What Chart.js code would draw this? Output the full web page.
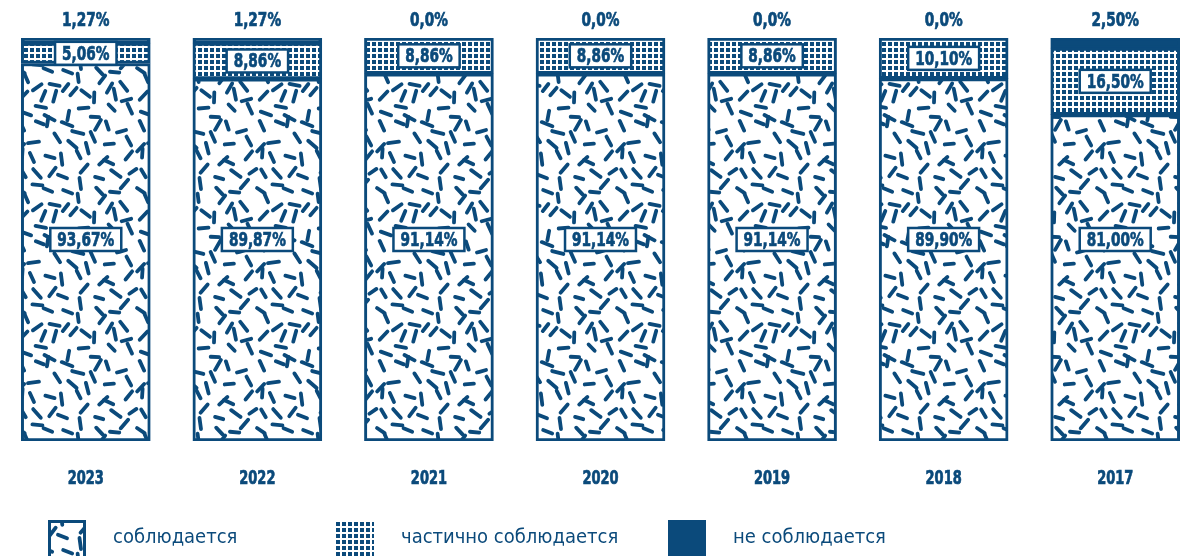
<!DOCTYPE html>
<html>
<head>
<meta charset="utf-8">
<script src="https://cdn.jsdelivr.net/npm/chart.js@4.4.1/dist/chart.umd.min.js"></script>
<style>
  html, body { margin: 0; padding: 0; background: #fff; }
  #wrap { width: 1201px; height: 556px; }
</style>
</head>
<body>
<div id="wrap"><canvas id="bar_chart" width="1201" height="556"></canvas></div>
<script>
var years = ["2023", "2022", "2021", "2020", "2019", "2018", "2017"];
var compliant = [93.67, 89.87, 91.14, 91.14, 91.14, 89.90, 81.00];
var partial = [5.06, 8.86, 8.86, 8.86, 8.86, 10.10, 16.50];
var notCompliant = [1.27, 1.27, 0, 0, 0, 0, 2.50];
var seriesNames = ["соблюдается", "частично соблюдается", "не соблюдается"];

var BLUE = '#0b4a7b';
var FONT = "'Liberation Sans Narrow', 'DejaVu Sans Condensed', 'Roboto', sans-serif";

// pattern with short rounded dashes
function dashPattern() {
    var size = 120, cells = 8, step = size / cells;
    var c = document.createElement('canvas');
    c.width = size; c.height = size;
    var g = c.getContext('2d');
    g.fillStyle = '#fff';
    g.fillRect(0, 0, size, size);
    g.strokeStyle = BLUE;
    g.lineWidth = 3.8;
    g.lineCap = 'round';
    var seed = 29;
    function rnd() { seed = (seed * 16807) % 2147483647; return seed / 2147483647; }
    for (var r = 0; r < cells; r++) {
        for (var k = 0; k < cells; k++) {
            var cx = k * step + step / 2 + (rnd() - 0.5) * step * 0.8;
            var cy = r * step + step / 2 + (rnd() - 0.5) * step * 0.8;
            var a = rnd() * Math.PI;
            var len = 4.2 + rnd() * 1.6;
            var dx = Math.cos(a) * len, dy = Math.sin(a) * len;
            for (var ox = -1; ox <= 1; ox++) {
                for (var oy = -1; oy <= 1; oy++) {
                    g.beginPath();
                    g.moveTo(cx - dx + ox * size, cy - dy + oy * size);
                    g.lineTo(cx + dx + ox * size, cy + dy + oy * size);
                    g.stroke();
                }
            }
        }
    }
    return g.createPattern(c, 'repeat');
}

// small square grid pattern
function gridPattern() {
    var c = document.createElement('canvas');
    c.width = 6; c.height = 6;
    var g = c.getContext('2d');
    g.fillStyle = '#fff';
    g.fillRect(0, 0, 6, 6);
    g.fillStyle = BLUE;
    g.fillRect(0, 0, 4, 4);
    return g.createPattern(c, 'repeat');
}

function fmt(v) {
    if (v === 0) return '0,0%';
    return v.toFixed(2).replace('.', ',') + '%';
}

// condensed text: draw squeezed horizontally
var SQUEEZE = 0.76;
function narrowText(ctx, text, x, y, size, weight) {
    ctx.save();
    ctx.font = weight + " " + size + "px " + FONT;
    ctx.fillStyle = BLUE;
    ctx.strokeStyle = BLUE;
    ctx.lineWidth = 0.7;
    ctx.textAlign = 'center';
    ctx.textBaseline = 'middle';
    ctx.translate(x, y);
    ctx.scale(SQUEEZE, 1);
    ctx.fillText(text, 0, 0);
    ctx.strokeText(text, 0, 0);
    ctx.restore();
}

function labelBox(ctx, x, y, text) {
    ctx.font = "bold 20px " + FONT;
    var w = ctx.measureText(text).width * SQUEEZE + 14, h = 23;
    ctx.fillStyle = '#fff';
    ctx.fillRect(x - w / 2, y - h / 2, w, h);
    ctx.strokeStyle = BLUE;
    ctx.lineWidth = 2.5;
    ctx.strokeRect(x - w / 2, y - h / 2, w, h);
    narrowText(ctx, text, x, y + 1, 20, 'bold');
}

var segLabels = {
    id: 'segLabels',
    afterDatasetsDraw: function (chart) {
        var ctx = chart.ctx, ys = chart.scales.y;
        var mC = chart.getDatasetMeta(0), mP = chart.getDatasetMeta(1), mN = chart.getDatasetMeta(2);
        years.forEach(function (yr, i) {
            var x = mC.data[i].x;
            labelBox(ctx, x, ys.getPixelForValue(50), fmt(compliant[i]));
            var p = mP.data[i];
            labelBox(ctx, x, (p.y + p.base) / 2, fmt(partial[i]));
            var n = mN.data[i];
            narrowText(ctx, fmt(notCompliant[i]), x, n.y - 17, 20, 'bold');
            narrowText(ctx, yr, x, ys.bottom + 38, 19, 'bold');
        });
    }
};

var legendX = [48, 336, 668];
var bottomLegend = {
    id: 'bottomLegend',
    afterDraw: function (chart) {
        var ctx = chart.ctx;
        ctx.save();
        chart.data.datasets.forEach(function (ds, i) {
            var x = legendX[i], y = 520;
            ctx.fillStyle = ds.backgroundColor;
            ctx.fillRect(x, y, 38, 38);
            if (i === 0) {
                ctx.strokeStyle = BLUE;
                ctx.lineWidth = 3;
                ctx.strokeRect(x + 1.5, y + 1.5, 35, 40);
            }
            ctx.fillStyle = BLUE;
            ctx.font = "20px " + FONT;
            ctx.textAlign = 'left';
            ctx.textBaseline = 'middle';
            ctx.fillText(ds.label, x + 65, 538);
        });
        ctx.restore();
    }
};

var datasetBase = {
    borderColor: BLUE,
    borderWidth: 3,
    borderSkipped: false,
    barThickness: 129
};

new Chart(document.getElementById("bar_chart").getContext("2d"), {
    type: 'bar',
    data: {
        labels: years,
        datasets: [
            Object.assign({ label: seriesNames[0], data: compliant, backgroundColor: dashPattern() }, datasetBase),
            Object.assign({ label: seriesNames[1], data: partial, backgroundColor: gridPattern() }, datasetBase),
            Object.assign({ label: seriesNames[2], data: notCompliant, backgroundColor: BLUE }, datasetBase)
        ]
    },
    options: {
        responsive: false,
        animation: false,
        layout: { padding: { top: 38, bottom: 115, left: -3, right: -13 } },
        plugins: {
            legend: { display: false },
            tooltip: { enabled: false }
        },
        scales: {
            x: {
                stacked: true,
                display: false
            },
            y: {
                stacked: true,
                display: false,
                min: 0,
                max: 100
            }
        }
    },
    plugins: [segLabels, bottomLegend]
});
</script>
</body>
</html>
